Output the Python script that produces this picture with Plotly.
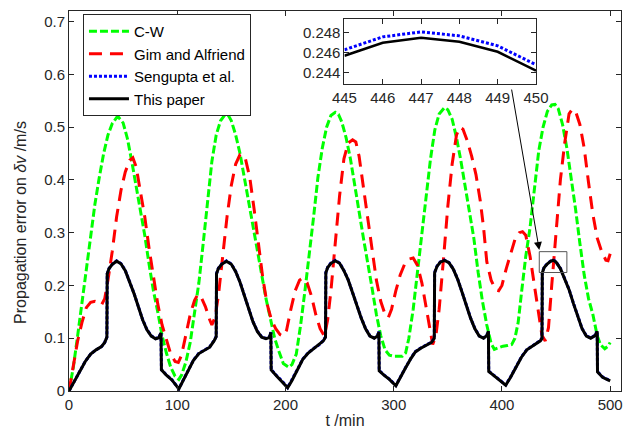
import plotly.graph_objects as go

# ---------------- data ----------------
t_cw = [0, 4, 8, 12, 16, 20, 24, 28, 32, 36, 40, 44, 46, 50, 54, 58, 62, 66, 70, 74, 78, 82, 86, 90, 94, 98, 101.5,
        104, 108, 112, 116, 120, 124, 128, 132, 136, 140, 144, 147, 150, 154, 158, 162, 166, 170, 174, 178, 182, 186, 190, 194, 198, 203,
        206, 210, 214, 218, 222, 226, 230, 234, 238, 242, 246, 249, 252, 256, 260, 264, 268, 272, 276, 280, 284, 288, 292, 296, 300, 304, 308,
        311, 314, 318, 322, 326, 330, 334, 338, 342, 347, 350, 354, 358, 362, 366, 370, 374, 378, 382, 386, 390, 393, 397, 401, 405, 409,
        412, 415, 418, 422, 426, 430, 434, 438, 442, 446, 449, 452, 456, 460, 464, 468, 472, 476, 480, 484, 488, 491, 495, 498, 500]
e_cw = [0, 0.045, 0.105, 0.17, 0.235, 0.30, 0.355, 0.405, 0.45, 0.485, 0.507, 0.518, 0.518, 0.508, 0.478, 0.435, 0.39, 0.345, 0.295, 0.24, 0.19, 0.15, 0.105, 0.072, 0.045, 0.028, 0.022,
        0.03, 0.055, 0.092, 0.145, 0.205, 0.28, 0.36, 0.435, 0.485, 0.512, 0.523, 0.523, 0.512, 0.485, 0.45, 0.405, 0.36, 0.315, 0.27, 0.22, 0.175, 0.138, 0.1, 0.075, 0.052, 0.045,
        0.05, 0.07, 0.125, 0.19, 0.255, 0.33, 0.405, 0.46, 0.5, 0.522, 0.528, 0.524, 0.51, 0.48, 0.44, 0.393, 0.34, 0.29, 0.245, 0.195, 0.145, 0.105, 0.078, 0.068, 0.066, 0.066, 0.066,
        0.072, 0.1, 0.155, 0.225, 0.3, 0.375, 0.44, 0.495, 0.525, 0.537, 0.533, 0.515, 0.48, 0.437, 0.39, 0.345, 0.29, 0.225, 0.17, 0.125, 0.09, 0.079, 0.082, 0.085, 0.086, 0.088,
        0.1, 0.13, 0.185, 0.255, 0.31, 0.385, 0.455, 0.5, 0.53, 0.542, 0.543, 0.535, 0.505, 0.46, 0.405, 0.345, 0.28, 0.22, 0.175, 0.145, 0.105, 0.088, 0.08, 0.085, 0.092]

t_gim = [0, 4, 8, 12, 16, 20, 24, 27, 30, 33, 36, 40, 44, 48, 52, 56, 59, 62, 66, 70, 74, 78, 82, 86, 90, 94, 98, 101,
         104, 108, 112, 116, 119, 122, 126, 130, 132, 135, 138, 142, 146, 150, 154, 158, 160, 163, 167, 171, 175, 179, 183, 187, 191, 195, 198,
         201, 205, 209, 213, 216, 220, 224, 228, 232, 236, 239, 242, 246, 250, 254, 258, 262, 265, 268, 272, 276, 280, 284, 288, 292, 295,
         298, 302, 306, 310, 314, 318, 322, 326, 330, 333, 336, 339, 342, 346, 350, 354, 358, 361, 364, 368, 372, 376, 380, 383, 386, 390, 394, 397,
         400, 404, 408, 412, 416, 419, 422, 426, 430, 434, 437, 440, 443, 446, 450, 454, 458, 462, 465, 468, 472, 476, 480, 484, 488, 492, 496, 498, 500]
e_gim = [0, 0.05, 0.095, 0.13, 0.158, 0.168, 0.17, 0.168, 0.163, 0.175, 0.21, 0.265, 0.33, 0.38, 0.415, 0.437, 0.442, 0.425, 0.38, 0.33, 0.27, 0.215, 0.165, 0.125, 0.095, 0.07, 0.056, 0.054,
         0.068, 0.105, 0.145, 0.172, 0.183, 0.178, 0.16, 0.135, 0.125, 0.14, 0.18, 0.255, 0.33, 0.39, 0.43, 0.448, 0.449, 0.44, 0.405, 0.345, 0.28, 0.215, 0.165, 0.135, 0.118, 0.107, 0.104,
         0.115, 0.155, 0.19, 0.21, 0.214, 0.205, 0.18, 0.145, 0.118, 0.104, 0.135, 0.19, 0.28, 0.37, 0.44, 0.47, 0.476, 0.472, 0.445, 0.385, 0.325, 0.265, 0.21, 0.17, 0.145, 0.139,
         0.155, 0.19, 0.22, 0.24, 0.25, 0.252, 0.238, 0.205, 0.16, 0.12, 0.088, 0.105, 0.155, 0.25, 0.35, 0.43, 0.485, 0.5, 0.496, 0.474, 0.445, 0.41, 0.36, 0.31, 0.245, 0.21, 0.192, 0.19,
         0.2, 0.232, 0.262, 0.287, 0.3, 0.302, 0.295, 0.255, 0.2, 0.14, 0.105, 0.095, 0.12, 0.2, 0.3, 0.4, 0.47, 0.525, 0.534, 0.53, 0.505, 0.46, 0.395, 0.335, 0.29, 0.265, 0.248, 0.247, 0.26]

t_this = [0, 5, 10, 15, 20, 25, 30, 33, 35, 35.3, 37, 40, 44, 48, 52, 56, 60, 64, 68, 72, 76, 80, 83, 85, 85.4, 90, 95, 101.5,
          105, 110, 115, 120, 125, 130, 134, 136, 136.3, 138, 141, 145.5, 150, 154, 158, 162, 166, 170, 174, 178, 182, 185, 186.5, 186.8, 192, 197, 202,
          206, 211, 216, 221, 226, 231, 235, 237, 237.3, 239, 242, 246, 250, 254, 258, 262, 266, 270, 274, 278, 282, 285, 286.3, 286.6, 291, 296, 302,
          306, 311, 316, 320, 325, 330, 335, 337.5, 337.8, 340, 343, 347, 351, 355, 359, 363, 367, 371, 375, 379, 383, 386, 387.5, 387.8, 392, 397, 403.5,
          408, 413, 418, 423, 428, 432, 435.5, 437, 437.3, 439, 442, 445, 446, 447, 448, 449, 450, 454, 458, 462, 466, 470, 474, 478, 482, 486, 488, 488.3, 493, 497, 500]
e_this = [0, 0.018, 0.036, 0.056, 0.070, 0.078, 0.084, 0.092, 0.102, 0.222, 0.232, 0.240, 0.246, 0.241, 0.228, 0.208, 0.185, 0.160, 0.135, 0.116, 0.104, 0.099, 0.101, 0.110, 0.040, 0.030, 0.021, 0.004,
          0.018, 0.038, 0.058, 0.071, 0.077, 0.083, 0.095, 0.103, 0.222, 0.232, 0.240, 0.246, 0.240, 0.226, 0.206, 0.182, 0.156, 0.131, 0.113, 0.102, 0.099, 0.101, 0.111, 0.040, 0.028, 0.018, 0.006,
          0.020, 0.040, 0.060, 0.072, 0.080, 0.087, 0.095, 0.102, 0.224, 0.234, 0.242, 0.247, 0.242, 0.228, 0.210, 0.186, 0.160, 0.138, 0.118, 0.104, 0.100, 0.104, 0.112, 0.038, 0.030, 0.022, 0.010,
          0.024, 0.044, 0.062, 0.074, 0.081, 0.086, 0.092, 0.100, 0.224, 0.236, 0.244, 0.2475, 0.243, 0.231, 0.212, 0.188, 0.162, 0.138, 0.118, 0.104, 0.100, 0.105, 0.113, 0.037, 0.030, 0.022, 0.011,
          0.026, 0.046, 0.064, 0.078, 0.085, 0.089, 0.095, 0.100, 0.224, 0.234, 0.241, 0.2457, 0.2470, 0.2475, 0.2471, 0.2461, 0.2442, 0.232, 0.213, 0.192, 0.166, 0.140, 0.118, 0.104, 0.100, 0.105, 0.113, 0.036, 0.026, 0.022, 0.019]
e_sen = [0, 0.018, 0.036, 0.056, 0.070, 0.078, 0.084, 0.092, 0.102, 0.222, 0.232, 0.240, 0.2465, 0.2415, 0.2285, 0.2085, 0.1855, 0.1605, 0.1355, 0.1165, 0.1045, 0.0995, 0.1015, 0.1105, 0.0405, 0.0305, 0.0215, 0.0045,
         0.0185, 0.0385, 0.0585, 0.0715, 0.0775, 0.0835, 0.0955, 0.1035, 0.2225, 0.2325, 0.2405, 0.2466, 0.2406, 0.2266, 0.2066, 0.1826, 0.1566, 0.1316, 0.1136, 0.1026, 0.0996, 0.1016, 0.1116, 0.0406, 0.0286, 0.0186, 0.0066,
         0.0206, 0.0406, 0.0606, 0.0726, 0.0806, 0.0876, 0.0956, 0.1026, 0.2246, 0.2346, 0.2426, 0.2476, 0.2426, 0.2286, 0.2106, 0.1866, 0.1606, 0.1386, 0.1186, 0.1046, 0.1006, 0.1046, 0.1126, 0.0386, 0.0306, 0.0226, 0.0106,
         0.0246, 0.0446, 0.0626, 0.0746, 0.0816, 0.0866, 0.0926, 0.1006, 0.2246, 0.2366, 0.2446, 0.2481, 0.2436, 0.2316, 0.2126, 0.1886, 0.1626, 0.1386, 0.1186, 0.1046, 0.1006, 0.1056, 0.1136, 0.0376, 0.0306, 0.0226, 0.0116,
         0.0266, 0.0466, 0.0646, 0.0786, 0.0856, 0.0896, 0.0956, 0.1006, 0.2246, 0.2346, 0.2416, 0.2463, 0.2476, 0.2481, 0.2477, 0.2467, 0.2448, 0.2326, 0.2136, 0.1926, 0.1666, 0.1406, 0.1186, 0.1046, 0.1006, 0.1056, 0.1136, 0.0366, 0.0266, 0.0226, 0.0196]

# inset (zoom of 445-450 min)
t_zoom = [445, 446, 447, 448, 449, 450]
e_zoom_sen = [0.2463, 0.2476, 0.2481, 0.2477, 0.2467, 0.2448]
e_zoom_this = [0.2457, 0.2470, 0.2475, 0.2471, 0.2461, 0.2442]

names = ["C-W", "Gim and Alfriend", "Sengupta et al.", "This paper"]
x_ticks = [0, 100, 200, 300, 400, 500]
y_ticks = [0, 0.1, 0.2, 0.3, 0.4, 0.5, 0.6, 0.7]
zoom_x_ticks = [445, 446, 447, 448, 449, 450]
zoom_y_ticks = [0.244, 0.246, 0.248]

# zoom-box and arrow (data coordinates)
box_t = [434.5, 460]
box_e = [0.2245, 0.264]
arrow_tail = (408.7, 0.574)
arrow_head = (434.5, 0.267)

# ---------------- figure ----------------
AX = "#262626"
FONT = "Arial, Liberation Sans, sans-serif"

fig = go.Figure()
fig.add_trace(go.Scatter(x=t_cw, y=e_cw, name=names[0], mode="lines",
                         line=dict(color="#00ff00", width=3, dash="8px,3px")))
fig.add_trace(go.Scatter(x=t_gim, y=e_gim, name=names[1], mode="lines",
                         line=dict(color="#ff0000", width=3, dash="13px,8px")))
fig.add_trace(go.Scatter(x=t_this, y=e_sen, name=names[2], mode="lines",
                         line=dict(color="#0000ff", width=3, dash="3px,2px")))
fig.add_trace(go.Scatter(x=t_this, y=e_this, name=names[3], mode="lines",
                         line=dict(color="#000000", width=3)))

fig.add_trace(go.Scatter(x=t_zoom, y=e_zoom_sen, mode="lines", showlegend=False,
                         xaxis="x2", yaxis="y2",
                         line=dict(color="#0000ff", width=3, dash="3px,2px")))
fig.add_trace(go.Scatter(x=t_zoom, y=e_zoom_this, mode="lines", showlegend=False,
                         xaxis="x2", yaxis="y2",
                         line=dict(color="#000000", width=2.5)))

axis_common = dict(showline=True, linecolor=AX, linewidth=1, mirror="ticks",
                   ticks="inside", ticklen=5, tickcolor=AX, tickwidth=1,
                   showgrid=False, zeroline=False,
                   tickfont=dict(family=FONT, size=15, color=AX))

fig.update_layout(
    width=644, height=436,
    margin=dict(l=69, r=22, t=10, b=44),
    paper_bgcolor="white", plot_bgcolor="white",
    font=dict(family=FONT, size=15, color=AX),
    xaxis=dict(range=[0, 510], tickvals=x_ticks, domain=[0, 1],
               title=dict(text="t /min", font=dict(family=FONT, size=16, color=AX), standoff=2),
               **axis_common),
    yaxis=dict(range=[0, 0.72], tickvals=y_ticks, domain=[0, 1], **axis_common),
    xaxis2=dict(range=[445, 450], tickvals=zoom_x_ticks, domain=[0.499, 0.846],
                anchor="y2", **axis_common),
    yaxis2=dict(range=[0.2429, 0.2494], tickvals=zoom_y_ticks, domain=[0.809, 0.979],
                anchor="x2", tickformat=".3f", **axis_common),
    legend=dict(x=0.0253, y=0.992, xanchor="left", yanchor="top",
                bgcolor="white", bordercolor=AX, borderwidth=1,
                font=dict(family=FONT, size=15, color="#000000"),
                tracegroupgap=0, itemwidth=40),
    showlegend=True,
)

# y-axis title (placed like the original, slightly below the axis centre)
fig.add_annotation(text="Propagation error on <i>δv</i> /m/s", textangle=-90,
                   xref="paper", yref="paper", x=-0.087, y=0.445,
                   xanchor="center", yanchor="middle", showarrow=False,
                   font=dict(family=FONT, size=16, color=AX))

fig.add_shape(type="rect", xref="x", yref="y",
              x0=box_t[0], x1=box_t[1], y0=box_e[0], y1=box_e[1],
              line=dict(color="#555555", width=1))

fig.add_annotation(x=arrow_head[0], y=arrow_head[1], ax=arrow_tail[0], ay=arrow_tail[1],
                   xref="x", yref="y", axref="x", ayref="y",
                   showarrow=True, arrowhead=2, arrowsize=1.6, arrowwidth=1,
                   arrowcolor="#000000", text="")

fig.write_html("out.html")
